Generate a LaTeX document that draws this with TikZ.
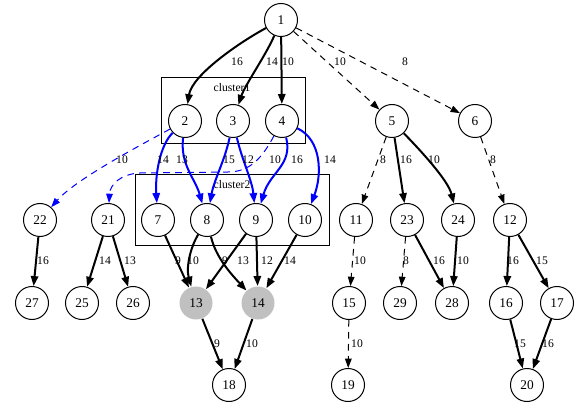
\documentclass[tikz,border=0pt]{standalone}
\usepackage{fontspec}
\setmainfont{Liberation Serif}
\usetikzlibrary{arrows.meta}
\definecolor{hotgray}{RGB}{192,192,192}

\begin{document}
\begin{tikzpicture}[x=0.75pt,y=-0.75pt,
  txt/.style={font=\fontsize{8.7}{10}\selectfont},
  vtx/.style={circle,draw,line width=0.75pt,minimum size=24.75pt,inner sep=0pt,font=\fontsize{10}{12}\selectfont},
  hot/.style={vtx,draw=none,fill=hotgray},
  lbl/.style={txt,inner sep=0pt},
  heavy/.style={line width=1.5pt,-{Triangle[length=7.5pt,width=5.5pt]}},
  lite/.style={line width=0.75pt,dash pattern=on 5pt off 4pt,-{Triangle[length=7pt,width=5pt]}},
  bheavy/.style={heavy,color=blue},
  blite/.style={lite,color=blue},
  clusterbox/.style={draw,line width=0.75pt}
]
\useasboundingbox (0,0) rectangle (577,402);

% clusters
\draw[clusterbox] (161,78) rectangle (305,144);
\node[lbl] (c1) at (232,88) {cluster1};
\draw[clusterbox] (135,175) rectangle (329,246);
\node[lbl] (c2) at (232,185) {cluster2};

% vertices
\node[vtx] (n1) at (281,20) {1};
\node[vtx] (n2) at (185,121) {2};
\node[vtx] (n3) at (233,121) {3};
\node[vtx] (n4) at (282,121) {4};
\node[vtx] (n5) at (392,121) {5};
\node[vtx] (n6) at (475,121) {6};
\node[vtx] (n22) at (40,220) {22};
\node[vtx] (n21) at (108,220) {21};
\node[vtx] (n7) at (158,220) {7};
\node[vtx] (n8) at (207,220) {8};
\node[vtx] (n9) at (256,220) {9};
\node[vtx] (n10) at (305,220) {10};
\node[vtx] (n11) at (356,220) {11};
\node[vtx] (n23) at (407,220) {23};
\node[vtx] (n24) at (458,220) {24};
\node[vtx] (n12) at (510,220) {12};
\node[vtx] (n27) at (32,303) {27};
\node[vtx] (n25) at (82,303) {25};
\node[vtx] (n26) at (133,303) {26};
\node[hot] (n13) at (196,303) {13};
\node[hot] (n14) at (258,303) {14};
\node[vtx] (n15) at (349,303) {15};
\node[vtx] (n29) at (400,303) {29};
\node[vtx] (n28) at (452,303) {28};
\node[vtx] (n16) at (506,303) {16};
\node[vtx] (n17) at (557,303) {17};
\node[vtx] (n18) at (229,385) {18};
\node[vtx] (n19) at (348,385) {19};
\node[vtx] (n20) at (527,385) {20};

% edges from 1
\draw[heavy] (n1) .. controls (240,42) and (192,75) .. (n2);
\draw[heavy] (n1) .. controls (266,55) and (245,85) .. (n3);
\draw[heavy] (n1) -- (n4);
\draw[lite] (n1) -- (n5);
\draw[lite] (n1) -- (n6);

% edges into cluster2 and beside it
\draw[blite] (n2) .. controls (135,148) and (75,180) .. (n22);
\draw[bheavy] (n2) .. controls (160,145) and (155,175) .. (n7);
\draw[bheavy] (n2) .. controls (180,165) and (195,178) .. (n8);
\draw[bheavy] (n3) .. controls (225,160) and (214,180) .. (n8);
\draw[bheavy] (n3) .. controls (242,160) and (252,180) .. (n9);
\draw[blite] (n4) .. controls (262,158) and (250,172) .. (228,172)
  -- (140,173) .. controls (120,174) and (110,185) .. (n21);
\draw[bheavy] (n4) .. controls (293,165) and (270,172) .. (n9);
\draw[bheavy] (n4) .. controls (322,140) and (322,175) .. (n10);
\draw[lite] (n5) -- (n11);
\draw[heavy] (n5) -- (n23);
\draw[heavy] (n5) .. controls (420,150) and (448,180) .. (n24);
\draw[lite] (n6) -- (n12);

% third layer
\draw[heavy] (n22) -- (n27);
\draw[heavy] (n21) -- (n25);
\draw[heavy] (n21) -- (n26);
\draw[heavy] (n7) -- (n13);
\draw[heavy] (n8) .. controls (190,248) and (186,268) .. (n13);
\draw[heavy] (n8) .. controls (216,258) and (232,275) .. (n14);
\draw[heavy] (n9) -- (n13);
\draw[heavy] (n9) -- (n14);
\draw[heavy] (n10) -- (n14);
\draw[lite] (n11) -- (n15);
\draw[lite] (n23) -- (n29);
\draw[heavy] (n23) -- (n28);
\draw[heavy] (n24) -- (n28);
\draw[heavy] (n12) -- (n16);
\draw[heavy] (n12) -- (n17);

% bottom layer
\draw[heavy] (n13) -- (n18);
\draw[heavy] (n14) -- (n18);
\draw[lite] (n15) -- (n19);
\draw[heavy] (n16) -- (n20);
\draw[heavy] (n17) -- (n20);

% weights
\node[lbl] (w12) at (237,62) {16};
\node[lbl] (w13) at (272,62) {14};
\node[lbl] (w14) at (288,62) {10};
\node[lbl] (w15) at (340,62) {10};
\node[lbl] (w16) at (405,62) {8};

\node[lbl] (w222) at (122,160) {10};
\node[lbl] (w27) at (163,160) {14};
\node[lbl] (w28) at (182,160) {13};
\node[lbl] (w38) at (229,160) {15};
\node[lbl] (w39) at (248,160) {12};
\node[lbl] (w421) at (275,160) {10};
\node[lbl] (w49) at (297,160) {16};
\node[lbl] (w410) at (330,160) {14};
\node[lbl] (w511) at (383,160) {8};
\node[lbl] (w523) at (406,160) {16};
\node[lbl] (w524) at (434,160) {10};
\node[lbl] (w612) at (493,160) {8};

\node[lbl] (w2227) at (43,261) {16};
\node[lbl] (w2125) at (105,261) {14};
\node[lbl] (w2126) at (130,261) {13};
\node[lbl] (w713) at (178,261) {9};
\node[lbl] (w813) at (193,261) {10};
\node[lbl] (w814) at (225,261) {9};
\node[lbl] (w913) at (243,261) {13};
\node[lbl] (w914) at (267,261) {12};
\node[lbl] (w1014) at (290,261) {14};
\node[lbl] (w1115) at (360,261) {10};
\node[lbl] (w2329) at (406,261) {8};
\node[lbl] (w2328) at (439,261) {16};
\node[lbl] (w2428) at (463,261) {10};
\node[lbl] (w1216) at (513,261) {16};
\node[lbl] (w1217) at (542,261) {15};

\node[lbl] (w1318) at (217,344) {9};
\node[lbl] (w1418) at (252,344) {10};
\node[lbl] (w1519) at (357,344) {10};
\node[lbl] (w1620) at (520,344) {15};
\node[lbl] (w1720) at (548,344) {16};
\end{tikzpicture}
\end{document}
